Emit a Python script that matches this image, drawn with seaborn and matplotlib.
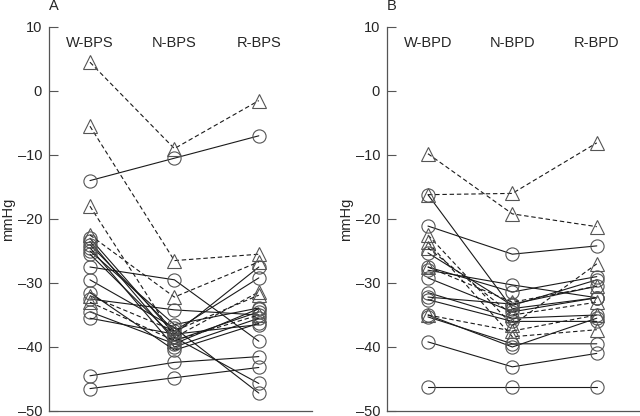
import pandas as pd
import seaborn as sns
import matplotlib
matplotlib.use("Agg")
import matplotlib.pyplot as plt

# values: (W, N, R) per subject
# panel A, systolic
a_circles = [
    (-14.0, -10.5, -7.0),
    (-23.0, -38.0, -27.5),
    (-23.5, -39.0, -34.5),
    (-24.0, -37.5, -29.2),
    (-24.5, -40.0, -35.5),
    (-25.0, -36.5, -33.9),
    (-25.5, -38.5, -45.7),
    (-27.5, -29.5, -39.1),
    (-29.5, -37.0, -47.2),
    (-31.5, -40.5, -36.3),
    (-32.5, -34.2, -35.0),
    (-34.5, -39.5, -34.0),
    (-35.5, -38.0, -36.5),
    (-44.5, -42.4, -41.5),
    (-46.5, -44.8, -43.2),
]
a_triangles = [
    (4.5, -9.0, -1.5),
    (-5.5, -26.5, -25.5),
    (-18.0, -38.5, -31.4),
    (-22.5, -32.2, -26.7),
    (-32.0, -37.5, -31.9),
    (-33.0, -39.0, -35.0),
]
# panel B, diastolic
b_circles = [
    (-16.2, -34.0, -32.3),
    (-21.1, -25.5, -24.2),
    (-25.3, -33.5, -29.5),
    (-27.5, -31.4, -29.0),
    (-28.0, -30.3, -32.3),
    (-29.2, -34.5, -32.3),
    (-31.5, -35.5, -35.0),
    (-32.2, -33.3, -30.5),
    (-32.6, -36.0, -36.0),
    (-35.0, -40.0, -35.5),
    (-35.3, -39.5, -39.5),
    (-39.2, -43.1, -41.0),
    (-46.3, -46.3, -46.3),
]
b_triangles = [
    (-16.2, -16.0, -8.1),
    (-9.8, -19.2, -21.2),
    (-22.5, -36.6, -27.0),
    (-23.6, -38.4, -37.3),
    (-24.5, -35.0, -33.0),
    (-27.5, -33.0, -30.5),
    (-35.0, -37.5, -35.0),
]
a_labels = ["W-BPS", "N-BPS", "R-BPS"]
b_labels = ["W-BPD", "N-BPD", "R-BPD"]
yticks = [-50, -40, -30, -20, -10, 0, 10]


def to_frame(circles, triangles):
    rows = []
    for kind, group in (("c", circles), ("t", triangles)):
        for i, vals in enumerate(group):
            for pos, v in enumerate(vals):
                rows.append({"subj": f"{kind}{i}", "kind": kind, "pos": pos, "val": v})
    return pd.DataFrame(rows)


sns.set_style("white")
plt.rcParams["font.family"] = ["Liberation Sans", "DejaVu Sans"]

fig = plt.figure(figsize=(6.4, 4.16), dpi=100)
ax_a = fig.add_axes([49 / 640, 5 / 416, 263 / 640, 384 / 416])
ax_b = fig.add_axes([387 / 640, 5 / 416, 252 / 640, 384 / 416])

panels = [
    (ax_a, to_frame(a_circles, a_triangles), a_labels, (-0.485, 2.63), "A"),
    (ax_b, to_frame(b_circles, b_triangles), b_labels, (-0.485, 2.50), "B"),
]

for ax, df, labels, xlim, tag in panels:
    sns.lineplot(data=df, x="pos", y="val", units="subj", estimator=None,
                 style="kind", style_order=["c", "t"],
                 markers={"c": "o", "t": "^"}, dashes={"c": "", "t": (4, 2.5)},
                 color="#1a1a1a", linewidth=0.8, markersize=9.5,
                 markerfacecolor="none", markeredgecolor="#555555",
                 markeredgewidth=0.8, legend=False, ax=ax)
    ax.set_xlim(*xlim)
    ax.set_ylim(-50, 10)
    ax.set_yticks(yticks)
    ax.set_yticklabels([str(t).replace("-", "\u2013") for t in yticks])
    ax.set_xticks([])
    ax.set_xlabel("")
    ax.set_ylabel("mmHg", fontsize=10.5)
    # label's right edge sits about 34 px left of the spine
    ax.yaxis.set_label_coords(-34 / (ax.get_position().width * 640), 0.5)
    ax.tick_params(axis="y", direction="in", length=6.5, width=0.8,
                   color="#555555", labelsize=10.5, left=True, pad=5)
    for s in ("top", "right"):
        ax.spines[s].set_visible(False)
    for s in ("left", "bottom"):
        ax.spines[s].set_color("#555555")
        ax.spines[s].set_linewidth(0.9)
    for pos, lab in enumerate(labels):
        ax.text(pos, 7.5, lab, ha="center", va="center", fontsize=10.5)
    ax.text(0.0, 1.055, tag, transform=ax.transAxes, fontsize=10.5,
            ha="left", va="center")

fig.savefig("out.png", dpi=100)
